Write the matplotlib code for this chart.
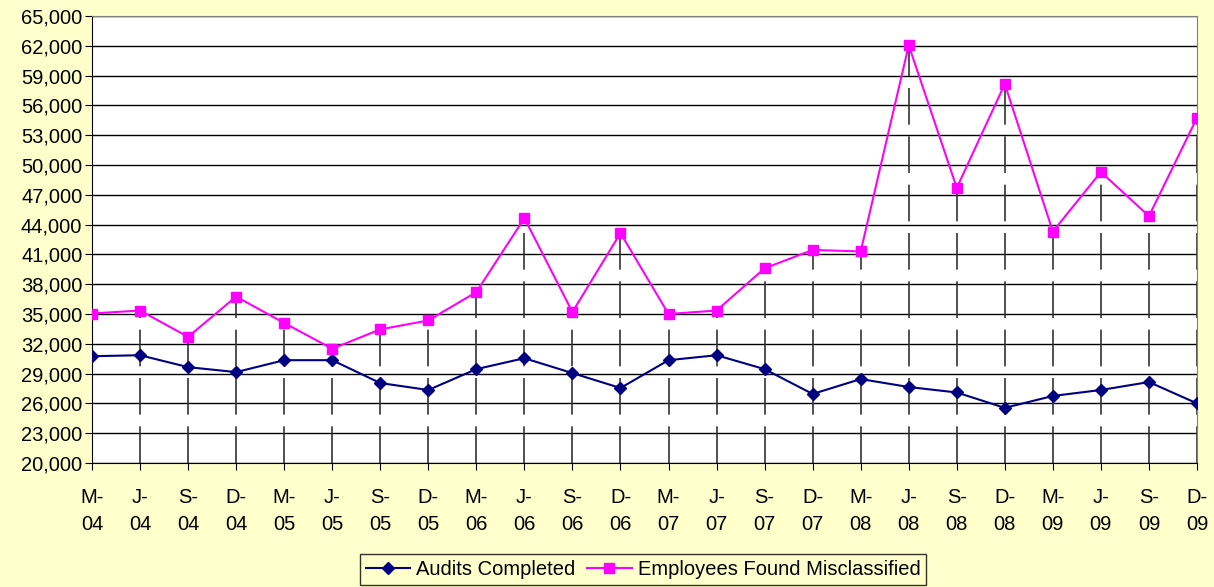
import matplotlib.pyplot as plt
import numpy as np
from matplotlib.ticker import FuncFormatter

plt.rcParams['font.family'] = ['Liberation Sans', 'DejaVu Sans']

# quarter labels
quarters = ['M-\n04', 'J-\n04', 'S-\n04', 'D-\n04', 'M-\n05', 'J-\n05', 'S-\n05', 'D-\n05',
            'M-\n06', 'J-\n06', 'S-\n06', 'D-\n06', 'M-\n07', 'J-\n07', 'S-\n07', 'D-\n07',
            'M-\n08', 'J-\n08', 'S-\n08', 'D-\n08', 'M-\n09', 'J-\n09', 'S-\n09', 'D-\n09']

audits = [30750, 30850, 29650, 29150, 30350, 30350, 28050, 27350,
          29450, 30550, 29050, 27550, 30350, 30850, 29450, 26950,
          28450, 27650, 27100, 25550, 26750, 27350, 28150, 26000]

misclassified = [35050, 35350, 32700, 36750, 34100, 31500, 33450, 34350,
                 37200, 44650, 35200, 43150, 35000, 35350, 39600, 41450,
                 41300, 62050, 47700, 58150, 43300, 49300, 44850, 54750]

bg = '#FFFFCC'
x = np.arange(len(quarters))

fig = plt.figure(figsize=(12.14, 5.87), dpi=100, facecolor=bg)
ax = fig.add_axes([92/1214, 1-463/587, (1197-92)/1214, (463-16)/587])
ax.set_facecolor('white')

# drop lines from the misclassified series
ax.vlines(x, 20000, misclassified, colors='#333333', linewidth=1.2,
          linestyles=(0, (22, 7)), zorder=2)

ax.plot(x, audits, color='#000080', marker='D', markersize=6.5, linewidth=1.5,
        label='Audits Completed', zorder=4)
ax.plot(x, misclassified, color='#FF00FF', marker='s', markersize=7, linewidth=1.5,
        label='Employees Found Misclassified', zorder=4)

ax.set_xlim(0, len(quarters) - 1)
ax.set_ylim(20000, 65000)
ax.set_yticks(np.arange(20000, 65001, 3000))
ax.yaxis.set_major_formatter(FuncFormatter(lambda v, p: f'{int(v):,}'))
ax.set_xticks(x)
ax.set_xticklabels(quarters, linespacing=1.55)
ax.grid(axis='y', color='black', linewidth=1)
ax.set_axisbelow(True)

ax.tick_params(axis='both', labelsize=14.5, direction='out', length=5, color='black')
ax.tick_params(axis='x', pad=13)
ax.tick_params(axis='y', pad=2)
for s in ['top', 'right']:
    ax.spines[s].set_color('#808080')
for s in ['left', 'bottom']:
    ax.spines[s].set_color('black')

leg = fig.legend(loc='lower center', bbox_to_anchor=(643/1214, 0.0), ncol=2,
                 frameon=True, fontsize=14.5, facecolor=bg, edgecolor='black',
                 fancybox=False, handlelength=2.2, columnspacing=0.6,
                 handletextpad=0.3, borderpad=0.3, borderaxespad=0.1)
leg.get_frame().set_linewidth(1)

fig.savefig('out.png', dpi=100, facecolor=bg)
